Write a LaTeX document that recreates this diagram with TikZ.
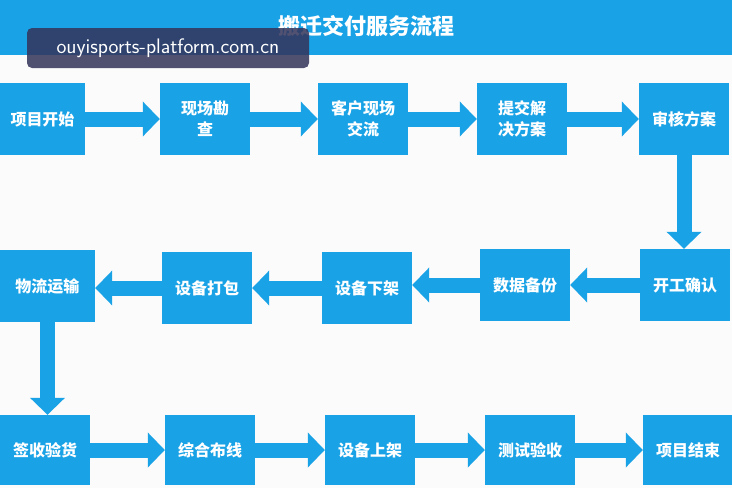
\documentclass[tikz,border=0pt]{standalone}
\usepackage{fontspec}
\newfontfamily\cjk{Noto Sans CJK SC}
\usetikzlibrary{arrows.meta}
\definecolor{bl}{HTML}{19A2E6}
\begin{document}
\begin{tikzpicture}[x=1pt,y=-1pt,
 box/.style={fill=bl,draw=none,text=white,font=\cjk\bfseries\fontsize{16}{21}\selectfont,align=center,inner sep=0pt},
 arr/.style={draw=bl,line width=15pt,-{Triangle[width=34pt,length=17pt]},shorten <=-1pt}]
\useasboundingbox[fill=white!97!gray] (0,0) rectangle (732,488);
\fill[bl] (0,0) rectangle (732,55);
\node[text=white,font=\cjk\bfseries\fontsize{22}{24}\selectfont] (title) at (366,26) {搬迁交付服务流程};
% row1
\node[box,minimum width=85,minimum height=72] (a1) at (42.5,119) {项目开始};
\node[box,minimum width=90,minimum height=72] (a2) at (205,119) {现场勘\\查};
\node[box,minimum width=90,minimum height=72] (a3) at (363,119) {客户现场\\交流};
\node[box,minimum width=90,minimum height=72] (a4) at (522,119) {提交解\\决方案};
\node[box,minimum width=90,minimum height=72] (a5) at (684,119) {审核方案};
% row2
\node[box,minimum width=95,minimum height=72] (b1) at (47.5,286) {物流运输};
\node[box,minimum width=90,minimum height=72] (b2) at (207,288) {设备打包};
\node[box,minimum width=90,minimum height=72] (b3) at (367,288) {设备下架};
\node[box,minimum width=90,minimum height=72] (b4) at (525,285) {数据备份};
\node[box,minimum width=90,minimum height=72] (b5) at (685,285) {开工确认};
% row3
\node[box,minimum width=90,minimum height=70] (c1) at (45,450) {签收验货};
\node[box,minimum width=90,minimum height=70] (c2) at (210,450) {综合布线};
\node[box,minimum width=90,minimum height=70] (c3) at (370,450) {设备上架};
\node[box,minimum width=90,minimum height=70] (c4) at (530,450) {测试验收};
\node[box,minimum width=90,minimum height=70] (c5) at (688,450) {项目结束};
\foreach \p/\q in {a1/a2,a2/a3,a3/a4,a4/a5,c1/c2,c2/c3,c3/c4,c4/c5}
  \draw[arr] (\p.east |- \p.center) -- (\q.west |- \p.center);
\foreach \p/\q in {b5/b4,b4/b3,b3/b2,b2/b1}
  \draw[arr] (\p.west |- \p.center) -- (\q.east |- \p.center);
\draw[arr] (a5.south) -- (a5.south |- b5.north);
\draw[arr] (b1.south) -- (b1.south |- c1.north);
% watermark
\node[fill=black!75!blue!60!gray,fill opacity=0.85,text opacity=1,rounded corners=5pt,text=white,font=\fontsize{21}{24}\selectfont\sffamily,minimum width=282,minimum height=40,inner sep=0pt] (wm) at (168,48) {ouyisports-platform.com.cn};
\end{tikzpicture}
\end{document}
